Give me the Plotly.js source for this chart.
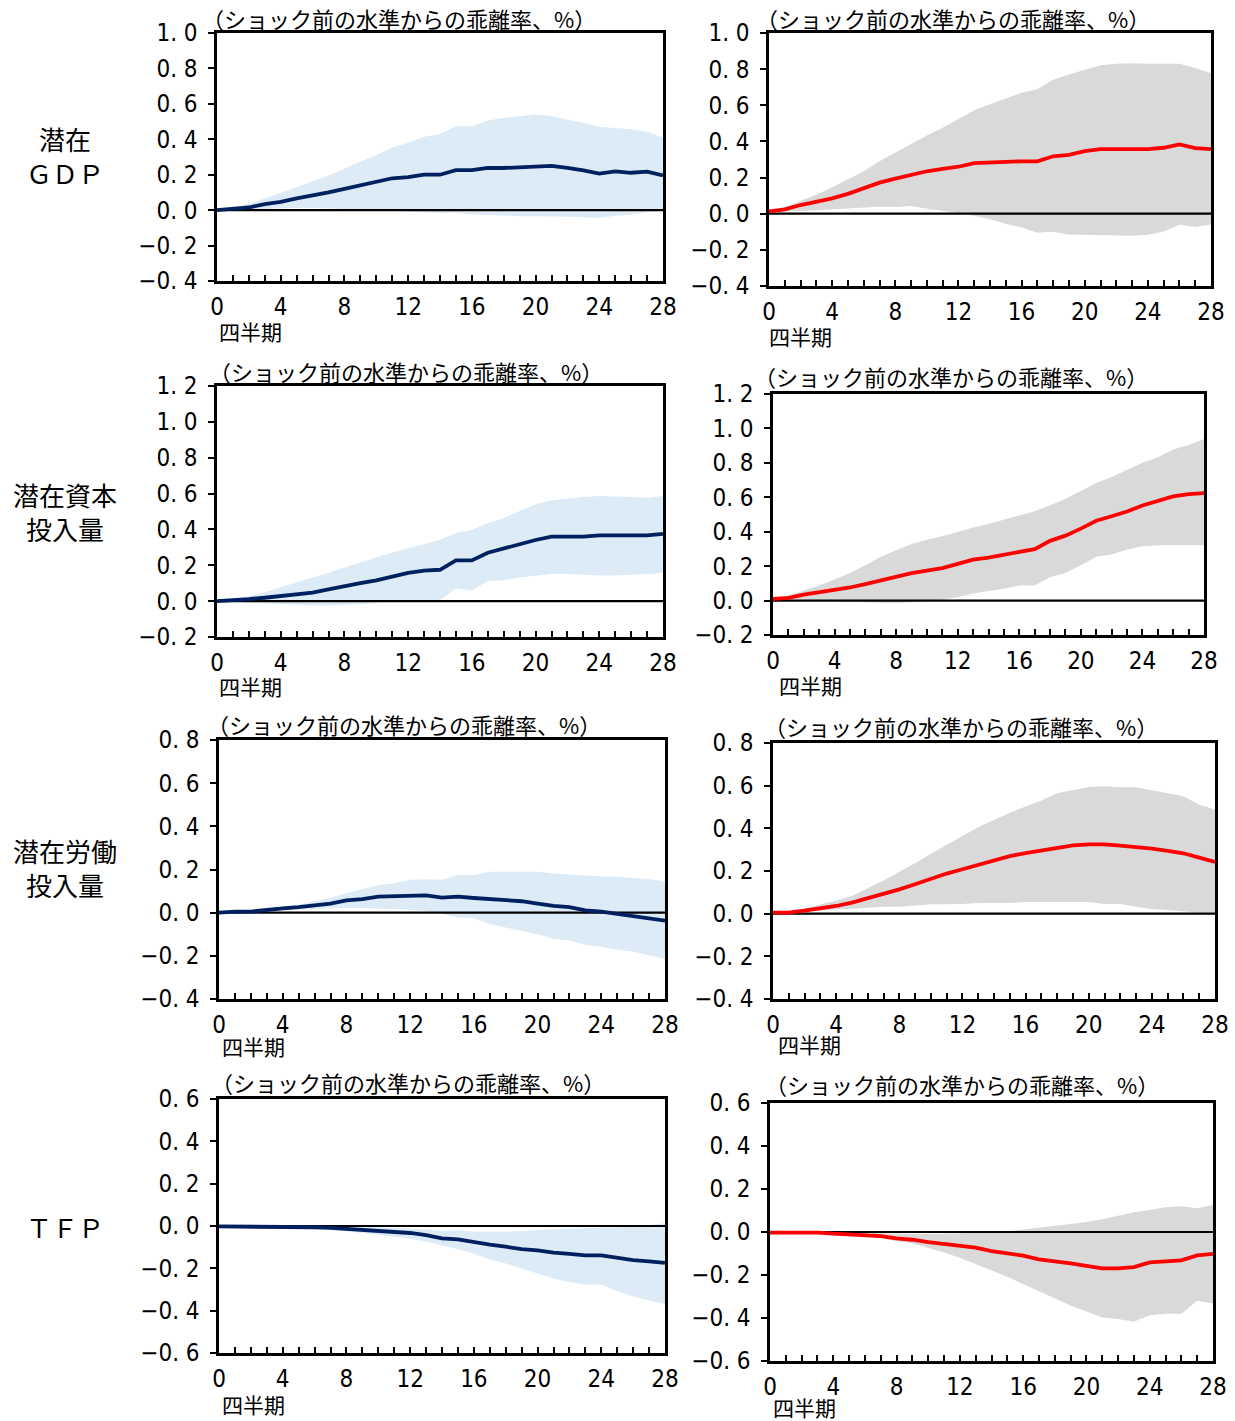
<!DOCTYPE html>
<html>
<head>
<meta charset="utf-8">
<script src="https://cdn.plot.ly/plotly-3.0.1.min.js"></script>
<style>
html,body{margin:0;padding:0;background:#fff;}
#chart{width:1235px;height:1421px;}
</style>
</head>
<body>
<div id="chart"></div>
<script>
// ---------------- data ----------------
const quarters = [0,1,2,3,4,5,6,7,8,9,10,11,12,13,14,15,16,17,18,19,20,21,22,23,24,25,26,27,28];
const xTickText = ['0','','','','4','','','','8','','','','12','','','','16','','','','20','','','','24','','','','28'];

const rowLabels = ['潜在<br>ＧＤＰ', '潜在資本<br>投入量', '潜在労働<br>投入量', 'ＴＦＰ'];
const panelTitle = '（ショック前の水準からの乖離率、%）';
const xAxisLabel = '四半期';

const yTicksRow1 = [-0.4,-0.2,0,0.2,0.4,0.6,0.8,1.0];
const yTextRow1  = ['−0. 4','−0. 2','0. 0','0. 2','0. 4','0. 6','0. 8','1. 0'];
const yTicksRow2 = [-0.2,0,0.2,0.4,0.6,0.8,1.0,1.2];
const yTextRow2  = ['−0. 2','0. 0','0. 2','0. 4','0. 6','0. 8','1. 0','1. 2'];
const yTicksRow3 = [-0.4,-0.2,0,0.2,0.4,0.6,0.8];
const yTextRow3  = ['−0. 4','−0. 2','0. 0','0. 2','0. 4','0. 6','0. 8'];
const yTicksRow4 = [-0.6,-0.4,-0.2,0,0.2,0.4,0.6];
const yTextRow4  = ['−0. 6','−0. 4','−0. 2','0. 0','0. 2','0. 4','0. 6'];

// Potential GDP
const gdpLeftMean  = [0.0,0.008,0.015,0.034,0.047,0.066,0.081,0.10,0.12,0.14,0.16,0.18,0.187,0.20,0.20,0.226,0.226,0.238,0.238,0.243,0.25,0.25,0.238,0.225,0.206,0.219,0.211,0.217,0.196];
const gdpLeftUpper = [0,0.01,0.034,0.066,0.098,0.13,0.16,0.194,0.234,0.275,0.31,0.353,0.38,0.415,0.43,0.474,0.474,0.506,0.52,0.528,0.54,0.532,0.51,0.494,0.47,0.464,0.457,0.442,0.41];
const gdpLeftLower = [0,0.003,0.005,0.008,0.01,0.012,0.012,0.01,0.008,0.005,0.002,-0.002,-0.008,-0.012,-0.018,-0.015,-0.025,-0.027,-0.032,-0.034,-0.035,-0.035,-0.037,-0.04,-0.045,-0.032,-0.025,-0.012,0.0];
const gdpRightMean  = [0.013,0.024,0.048,0.065,0.085,0.11,0.139,0.172,0.194,0.215,0.235,0.248,0.26,0.28,0.285,0.29,0.29,0.29,0.318,0.326,0.346,0.357,0.357,0.357,0.357,0.365,0.383,0.363,0.357];
const gdpRightUpper = [0.013,0.037,0.072,0.105,0.146,0.189,0.235,0.29,0.339,0.385,0.433,0.476,0.524,0.572,0.606,0.639,0.669,0.689,0.741,0.77,0.796,0.822,0.83,0.833,0.83,0.83,0.83,0.807,0.778];
const gdpRightLower = [0.013,0.013,0.015,0.019,0.024,0.028,0.033,0.039,0.037,0.043,0.028,0.017,0.004,-0.011,-0.031,-0.056,-0.076,-0.106,-0.1,-0.115,-0.117,-0.117,-0.12,-0.122,-0.117,-0.098,-0.061,-0.074,-0.059];

// Potential capital input
const capLeftMean  = [0,0.004,0.011,0.019,0.03,0.041,0.048,0.065,0.08,0.1,0.116,0.136,0.158,0.17,0.175,0.227,0.227,0.27,0.294,0.32,0.341,0.36,0.36,0.36,0.367,0.367,0.367,0.367,0.375];
const capLeftUpper = [0,0.011,0.028,0.05,0.078,0.104,0.132,0.158,0.188,0.216,0.24,0.272,0.294,0.319,0.343,0.38,0.397,0.436,0.462,0.503,0.54,0.563,0.574,0.581,0.587,0.585,0.581,0.576,0.587];
const capLeftLower = [0,-0.004,-0.009,-0.013,-0.017,-0.02,-0.024,-0.024,-0.022,-0.017,-0.007,0.002,0.006,0.007,0.007,0.071,0.06,0.112,0.117,0.132,0.143,0.151,0.151,0.145,0.143,0.143,0.145,0.151,0.158];
const capRightMean  = [0.01,0.016,0.035,0.049,0.062,0.076,0.096,0.117,0.139,0.16,0.174,0.189,0.213,0.238,0.25,0.265,0.285,0.299,0.347,0.377,0.418,0.464,0.49,0.517,0.552,0.576,0.605,0.619,0.624];
const capRightUpper = [0.01,0.03,0.058,0.088,0.123,0.16,0.205,0.254,0.293,0.328,0.353,0.373,0.398,0.425,0.445,0.47,0.492,0.519,0.554,0.591,0.636,0.683,0.718,0.761,0.8,0.833,0.878,0.904,0.939];
const capRightLower = [0.01,0.006,0.004,0.002,-0.002,-0.006,-0.01,-0.012,-0.014,-0.01,-0.004,0.006,0.02,0.041,0.055,0.068,0.088,0.088,0.135,0.16,0.205,0.254,0.267,0.297,0.316,0.322,0.322,0.322,0.322];

// Potential labour input
const labLeftMean  = [0,0.005,0.005,0.014,0.02,0.026,0.036,0.042,0.057,0.063,0.074,0.076,0.08,0.08,0.07,0.074,0.068,0.063,0.059,0.053,0.042,0.031,0.026,0.011,0.005,-0.006,-0.014,-0.025,-0.037];
const labLeftUpper = [0,0.005,0.008,0.017,0.029,0.037,0.051,0.068,0.091,0.11,0.127,0.136,0.152,0.155,0.152,0.175,0.175,0.19,0.19,0.19,0.19,0.181,0.178,0.172,0.167,0.166,0.161,0.156,0.144];
const labLeftLower = [0,0.003,0.005,0.009,0.011,0.015,0.019,0.02,0.022,0.022,0.02,0.017,0.014,0.008,-0.005,-0.022,-0.026,-0.053,-0.068,-0.084,-0.1,-0.122,-0.128,-0.15,-0.158,-0.172,-0.18,-0.198,-0.214];
const labRightMean  = [0.005,0.005,0.014,0.025,0.036,0.052,0.073,0.09,0.114,0.138,0.163,0.188,0.208,0.23,0.252,0.27,0.284,0.297,0.311,0.32,0.325,0.325,0.319,0.314,0.305,0.294,0.283,0.263,0.242];
const labRightUpper = [0.005,0.011,0.025,0.042,0.061,0.083,0.119,0.156,0.197,0.236,0.281,0.322,0.366,0.405,0.439,0.473,0.502,0.531,0.564,0.578,0.594,0.597,0.592,0.592,0.577,0.563,0.55,0.511,0.488];
const labRightLower = [0.005,0.005,0.009,0.016,0.02,0.023,0.028,0.033,0.033,0.038,0.044,0.044,0.045,0.05,0.05,0.05,0.055,0.055,0.055,0.055,0.055,0.045,0.045,0.033,0.022,0.017,0.011,0.006,0.005];

// TFP
const tfpLeftMean  = [-0.002,-0.002,-0.002,-0.002,-0.002,-0.003,-0.006,-0.009,-0.014,-0.017,-0.022,-0.027,-0.033,-0.043,-0.058,-0.063,-0.077,-0.088,-0.098,-0.109,-0.115,-0.126,-0.132,-0.139,-0.139,-0.15,-0.161,-0.167,-0.174];
const tfpLeftUpper = [0,0,0,0,0,0,0,0,-0.001,-0.003,-0.006,-0.01,-0.012,-0.017,-0.024,-0.02,-0.027,-0.028,-0.027,-0.024,-0.019,-0.014,-0.012,-0.011,-0.01,-0.006,-0.002,0.006,0.013];
const tfpLeftLower = [-0.003,-0.003,-0.004,-0.004,-0.005,-0.005,-0.009,-0.016,-0.025,-0.033,-0.041,-0.05,-0.062,-0.073,-0.09,-0.11,-0.131,-0.158,-0.177,-0.202,-0.224,-0.248,-0.265,-0.276,-0.276,-0.308,-0.333,-0.353,-0.369];
const tfpRightMean  = [-0.003,-0.003,-0.003,-0.003,-0.008,-0.011,-0.012,-0.019,-0.03,-0.036,-0.047,-0.056,-0.061,-0.073,-0.089,-0.1,-0.11,-0.127,-0.135,-0.146,-0.158,-0.169,-0.169,-0.163,-0.141,-0.137,-0.132,-0.109,-0.102];
const tfpRightUpper = [-0.002,-0.002,-0.002,-0.002,-0.002,-0.002,-0.002,-0.006,-0.009,-0.009,-0.009,-0.008,-0.006,-0.005,-0.002,0.003,0.011,0.019,0.026,0.037,0.047,0.059,0.076,0.092,0.102,0.115,0.12,0.11,0.126];
const tfpRightLower = [-0.003,-0.004,-0.005,-0.006,-0.007,-0.012,-0.017,-0.028,-0.043,-0.054,-0.073,-0.095,-0.12,-0.15,-0.179,-0.208,-0.242,-0.276,-0.307,-0.342,-0.37,-0.398,-0.405,-0.418,-0.387,-0.38,-0.38,-0.32,-0.332];

// ---------------- layout helpers ----------------
const W = 1235, H = 1421;
const px = v => v / W;
const py = v => 1 - v / H;

const NUM_FONT = '"DejaVu Sans Condensed", "Liberation Sans Narrow", sans-serif';
const JP_FONT = '"Noto Sans CJK JP", "Noto Sans CJK SC", sans-serif';

const LEFT_STYLE  = {band: '#DDEBF7', line: '#002060'};
const RIGHT_STYLE = {band: '#D9D9D9', line: '#FF0000'};

// panel boxes in pixels: [left, right, top, bottom], title pos, x-label pos
const panels = [
  {box:[217,663,33,281],   range:[-0.4,1.0], tv:yTicksRow1, tt:yTextRow1, d:[gdpLeftMean,gdpLeftUpper,gdpLeftLower],  st:LEFT_STYLE,  title:[200,18],   xl:[217,331]},
  {box:[769,1211,33,286],  range:[-0.4,1.0], tv:yTicksRow1, tt:yTextRow1, d:[gdpRightMean,gdpRightUpper,gdpRightLower], st:RIGHT_STYLE, title:[754,18],  xl:[767,336]},
  {box:[217,663,386,637],  range:[-0.2,1.2], tv:yTicksRow2, tt:yTextRow2, d:[capLeftMean,capLeftUpper,capLeftLower],  st:LEFT_STYLE,  title:[207,371],  xl:[217,686]},
  {box:[773,1204,394,635], range:[-0.2,1.2], tv:yTicksRow2, tt:yTextRow2, d:[capRightMean,capRightUpper,capRightLower], st:RIGHT_STYLE, title:[752,376], xl:[777,685]},
  {box:[219,665,740,999],  range:[-0.4,0.8], tv:yTicksRow3, tt:yTextRow3, d:[labLeftMean,labLeftUpper,labLeftLower],  st:LEFT_STYLE,  title:[205,724],  xl:[220,1046]},
  {box:[773,1215,743,999], range:[-0.4,0.8], tv:yTicksRow3, tt:yTextRow3, d:[labRightMean,labRightUpper,labRightLower], st:RIGHT_STYLE, title:[762,726], xl:[776,1044]},
  {box:[219,665,1099,1353],range:[-0.6,0.6], tv:yTicksRow4, tt:yTextRow4, d:[tfpLeftMean,tfpLeftUpper,tfpLeftLower],  st:LEFT_STYLE,  title:[209,1082], xl:[220,1404]},
  {box:[770,1213,1103,1361],range:[-0.6,0.6],tv:yTicksRow4, tt:yTextRow4, d:[tfpRightMean,tfpRightUpper,tfpRightLower], st:RIGHT_STYLE, title:[763,1084], xl:[771,1407]}
];

const rowLabelPos = [[65,155],[65,511],[65,867],[65,1226]];

const traces = [];
const layout = {
  width: W, height: H,
  margin: {l:0, r:0, t:0, b:0},
  paper_bgcolor: '#ffffff',
  plot_bgcolor: '#ffffff',
  showlegend: false,
  annotations: [],
  font: {family: JP_FONT, color: '#000'}
};

const zeros = quarters.map(() => 0);

panels.forEach((p, i) => {
  const n = i + 1;
  const xa = 'x' + n, ya = 'y' + n;
  const [mean, upper, lower] = p.d;
  traces.push({x: quarters, y: lower, xaxis: xa, yaxis: ya, type: 'scatter', mode: 'lines',
               line: {width: 0, color: p.st.band}, hoverinfo: 'skip'});
  traces.push({x: quarters, y: upper, xaxis: xa, yaxis: ya, type: 'scatter', mode: 'lines',
               line: {width: 0, color: p.st.band}, fill: 'tonexty', fillcolor: p.st.band, hoverinfo: 'skip'});
  traces.push({x: quarters, y: zeros, xaxis: xa, yaxis: ya, type: 'scatter', mode: 'lines',
               line: {width: 2.2, color: '#000'}, hoverinfo: 'skip'});
  traces.push({x: quarters, y: mean, xaxis: xa, yaxis: ya, type: 'scatter', mode: 'lines',
               line: {width: 3.8, color: p.st.line}});

  const [l, r, t, b] = p.box;
  layout['xaxis' + n] = {
    domain: [px(l), px(r)], anchor: ya, range: [0, 28],
    showline: true, linecolor: '#000', linewidth: 2.6, mirror: true,
    ticks: 'inside', ticklen: 6, tickwidth: 2, tickcolor: '#000',
    tickmode: 'array', tickvals: quarters, ticktext: xTickText,
    showgrid: false, zeroline: false,
    tickfont: {family: NUM_FONT, size: 24, color: '#000'},
    ticklabelstandoff: 3, fixedrange: true
  };
  layout['yaxis' + n] = {
    domain: [py(b), py(t)], anchor: xa, range: p.range,
    showline: true, linecolor: '#000', linewidth: 2.6, mirror: true,
    ticks: 'outside', ticklen: 6, tickwidth: 2, tickcolor: '#000',
    tickmode: 'array', tickvals: p.tv, ticktext: p.tt,
    showgrid: false, zeroline: false,
    tickfont: {family: NUM_FONT, size: 24, color: '#000'},
    ticklabelstandoff: 6, fixedrange: true
  };

  layout.annotations.push({
    xref: 'paper', yref: 'paper', x: px(p.title[0]), y: py(p.title[1]),
    xanchor: 'left', yanchor: 'middle', showarrow: false,
    text: panelTitle, font: {family: JP_FONT, size: 22, color: '#000'}
  });
  layout.annotations.push({
    xref: 'paper', yref: 'paper', x: px(p.xl[0]), y: py(p.xl[1]),
    xanchor: 'left', yanchor: 'middle', showarrow: false,
    text: xAxisLabel, font: {family: JP_FONT, size: 21, color: '#000'}
  });
});

rowLabels.forEach((txt, i) => {
  layout.annotations.push({
    xref: 'paper', yref: 'paper', x: px(rowLabelPos[i][0]), y: py(rowLabelPos[i][1]),
    xanchor: 'center', yanchor: 'middle', align: 'center', showarrow: false,
    text: txt, font: {family: JP_FONT, size: 26, color: '#000'}
  });
});

Plotly.newPlot('chart', traces, layout, {displayModeBar: false, staticPlot: true});
</script>
</body>
</html>
